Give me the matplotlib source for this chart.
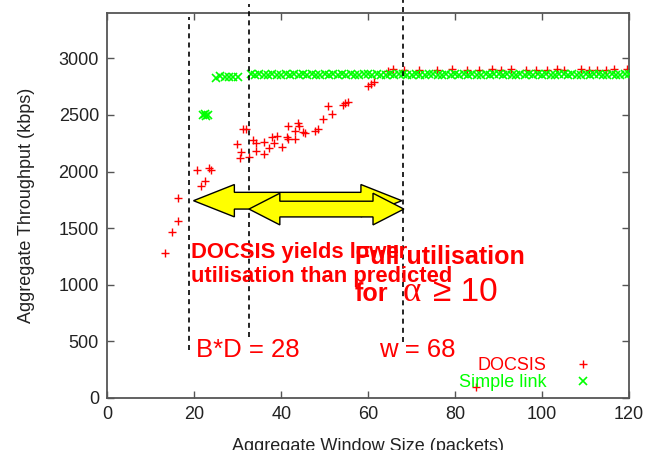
import matplotlib
matplotlib.use('Agg')
import matplotlib.pyplot as plt
from matplotlib.patches import Polygon

plt.rcParams['font.family'] = ['Liberation Sans', 'DejaVu Sans']

# DOCSIS runs: aggregate window size (packets) vs aggregate throughput (kbps)
docsis_w = [13.3, 15.0, 16.3, 16.3, 20.6, 21.6, 22.4, 23.3, 23.9,
            29.8, 30.5, 30.8, 31.3, 31.8, 32.7, 33.6, 34.3, 34.3,
            36.1, 36.1, 37.2, 37.8, 38.4, 39.0, 40.2, 41.3, 41.5, 41.6,
            43.1, 43.1, 43.8, 44.2, 45.0, 45.5, 47.7, 48.5, 49.6, 50.8,
            51.8, 54.3, 54.7, 55.3, 60.0, 60.7, 61.3,
            64.5, 65.8, 68.2, 71.6, 75.9, 79.4, 82.7, 85.6, 88.5, 90.5,
            92.9, 96.3, 98.7, 101.1, 103.5, 105.0, 108.9, 110.8, 112.7,
            114.7, 116.6, 119.5, 84.7]
docsis_kbps = [1282, 1468, 1565, 1763, 2013, 1874, 1918, 2031, 2013,
               2243, 2116, 2175, 2373, 2378, 2125, 2278, 2254, 2181,
               2258, 2154, 2210, 2302, 2254, 2313, 2213, 2307, 2402, 2290,
               2290, 2360, 2431, 2402, 2349, 2337, 2360, 2373, 2461, 2579,
               2508, 2588, 2608, 2617, 2755, 2773, 2791,
               2893, 2905, 2898, 2902, 2896, 2908, 2900, 2895, 2903, 2899,
               2906, 2897, 2901, 2894, 2904, 2900, 2907, 2896, 2902,
               2898, 2905, 2910, 95]

# simple link model
simple_w = [22.0, 22.4, 22.8, 23.1, 25, 26, 27, 28, 29, 30,
            33, 34, 35, 36, 37, 38, 39, 40, 41, 42,
            43, 44, 45, 46, 47, 48, 49, 50, 51, 52,
            53, 54, 55, 56, 57, 58, 59, 60, 61, 62,
            63, 64, 65, 66, 67, 68, 69, 70, 71, 72,
            73, 74, 75, 76, 77, 78, 79, 80, 81, 82,
            83, 84, 85, 86, 87, 88, 89, 90, 91, 92,
            93, 94, 95, 96, 97, 98, 99, 100, 101, 102,
            103, 104, 105, 106, 107, 108, 109, 110, 111, 112,
            113, 114, 115, 116, 117, 118, 119, 120]
simple_kbps = [2498, 2505, 2495, 2502, 2826, 2842, 2838, 2835, 2840, 2833,
               2858, 2855, 2860, 2853, 2857, 2861, 2856, 2854, 2859, 2857,
               2862, 2855, 2858, 2856, 2860, 2853, 2857, 2859, 2855, 2861,
               2856, 2858, 2854, 2860, 2857, 2855, 2859, 2862, 2856, 2858,
               2853, 2857, 2860, 2855, 2858, 2861, 2856, 2854, 2859, 2857,
               2855, 2860, 2858, 2856, 2853, 2859, 2857, 2861, 2855, 2858,
               2856, 2860, 2854, 2857, 2859, 2855, 2862, 2858, 2856, 2860,
               2853, 2857, 2859, 2855, 2861, 2856, 2858, 2854, 2860, 2857,
               2855, 2859, 2862, 2856, 2858, 2853, 2857, 2860, 2855, 2858,
               2861, 2856, 2854, 2859, 2857, 2855, 2860, 2858]

# dashed markers: window size, bottom and top of the dash (kbps)
marker_w = [18.86, 32.66, 67.95]
marker_lo = [422, 539, 495]
marker_hi = [3363, 3480, 3540]

xticks = [0, 20, 40, 60, 80, 100, 120]
yticks = [0, 500, 1000, 1500, 2000, 2500, 3000]

RED = '#ff0000'
GREEN = '#00ff00'


def double_arrow(ax, x0, x1, y, head_len, head_w, tail_w):
    hw, tw = head_w / 2, tail_w / 2
    pts = [(x0, y), (x0 + head_len, y + hw), (x0 + head_len, y + tw),
           (x1 - head_len, y + tw), (x1 - head_len, y + hw), (x1, y),
           (x1 - head_len, y - hw), (x1 - head_len, y - tw),
           (x0 + head_len, y - tw), (x0 + head_len, y - hw)]
    ax.add_patch(Polygon(pts, closed=True, facecolor='#ffff00',
                         edgecolor='black', lw=1.0, zorder=4))


fig = plt.figure(figsize=(6.61, 4.50), dpi=100)
ax = fig.add_axes([0.1623, 0.1162, 0.7893, 0.8545])

ax.plot(docsis_w, docsis_kbps, ls='none', marker='+', ms=6, mew=1.0,
        color=RED, label='DOCSIS', zorder=2)
ax.plot(simple_w, simple_kbps, ls='none', marker='x', ms=5.5, mew=1.2,
        color=GREEN, label='Simple link', zorder=3)

for w, lo, hi in zip(marker_w, marker_lo, marker_hi):
    ax.plot([w, w], [lo, hi], color='black', lw=1.2, ls=(0, (3, 2.5)),
            clip_on=False, zorder=3.5)

double_arrow(ax, 19.83, 67.74, 1742, 9.4, 286, 148)
double_arrow(ax, 32.59, 68.22, 1668, 7.1, 280, 139)

ax.set_xlim(0, 120)
ax.set_ylim(0, 3400)
ax.set_xticks(xticks)
ax.set_yticks(yticks)
ax.tick_params(direction='in', length=5, width=1.0, top=True, right=True,
               labelsize=13, colors='#555555', labelcolor='#222222', pad=6)
for sp in ax.spines.values():
    sp.set_color('#555555')
    sp.set_linewidth(1.3)

ax.set_xlabel('Aggregate Window Size (packets)', fontsize=13,
              color='#222222', labelpad=11)
ax.set_ylabel('Aggregate Throughput (kbps)', fontsize=13,
              color='#222222', labelpad=17)

ax.text(19.2, 1237, 'DOCSIS yields lower', color=RED, fontsize=15.8,
        fontweight='bold', va='baseline', zorder=5)
ax.text(19.2, 1023, 'utilisation than predicted', color=RED, fontsize=15.8,
        fontweight='bold', va='baseline', zorder=5)
ax.text(56.9, 1180, 'Full utilisation', color=RED, fontsize=18.1,
        fontweight='bold', va='baseline', zorder=5)
ax.text(56.9, 855, 'for', color=RED, fontsize=18.1,
        fontweight='bold', va='baseline', zorder=5)
ax.text(68.0, 855, 'α', color=RED, fontsize=25, family='Liberation Serif',
        va='baseline', zorder=5)
ax.text(75.0, 855, '≥ 10', color=RED, fontsize=24, va='baseline', zorder=5)
ax.text(20.3, 362, 'B*D = 28', color=RED, fontsize=18.5, va='baseline', zorder=5)
ax.text(62.4, 362, 'w = 68', color=RED, fontsize=18.5, va='baseline', zorder=5)

leg = ax.legend(loc='upper right', bbox_to_anchor=(0.9285, 0.105),
                frameon=False, markerfirst=False, fontsize=13,
                handlelength=1.0, handletextpad=1.5, labelspacing=0.0,
                borderpad=0, borderaxespad=0)
for txt, c in zip(leg.get_texts(), [RED, GREEN]):
    txt.set_color(c)

fig.savefig('out.png', dpi=100)
